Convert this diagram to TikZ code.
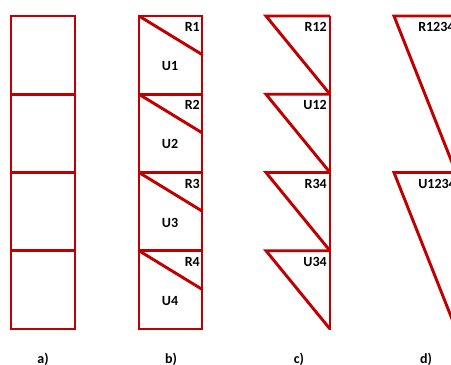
\documentclass[tikz,border=0pt]{standalone}
\usepackage{fontspec}
\setmainfont{Carlito}
\definecolor{cellred}{HTML}{C00000}
\tikzstyle{cell} = [draw=cellred, line width=2.2pt]
\tikzstyle{lbl} = [font=\fontsize{10.5}{12}\selectfont\bfseries, inner sep=0pt]

\begin{document}
\begin{tikzpicture}[x=0.75pt, y=-0.75pt]
  \useasboundingbox (0,0) rectangle (451,365);
  \clip (0,0) rectangle (451,365);
  % a) four plain cells
  \foreach \i in {0, 1, 2, 3} {
    \draw[cell] (11, 16 + \i * 78.25) rectangle (75, 94.25 + \i * 78.25);
  }
  % b) each cell cut into R and U
  \foreach \i\j in {0/1, 1/2, 2/3, 3/4} {
    \draw[cell] (139, 16 + \i * 78.25) rectangle (202, 94.25 + \i * 78.25);
    \draw[cell] (139, 16 + \i * 78.25) -- (202, 54.5 + \i * 78.25);
    \node[lbl, anchor=east] (r\j) at (200, 27 + \i * 78.25) {R\j};
    \node[lbl] (u\j) at (170, 66 + \i * 78.25) {U\j};
  }
  % c) pairs merged
  \draw[cell] (330, 16) -- (330, 329.5);
  \foreach \i in {0, 1, 2, 3} {
    \draw[cell] (330, 16 + \i * 78.25) -- (266, 16 + \i * 78.25) -- (330, 94.25 + \i * 78.25);
  }
  \foreach \i\j in {0/R12, 1/U12, 2/R34, 3/U34} {
    \node[lbl, anchor=east] (c\i) at (327, 27 + \i * 78.25) {\j};
  }
  % d) all four merged
  \draw[cell] (456, 16) -- (456, 329.5);
  \foreach \i in {0, 1} {
    \draw[cell] (456, 16 + \i * 156.5) -- (394, 16 + \i * 156.5) -- (456, 172.5 + \i * 156.5);
  }
  \node[lbl, anchor=west] (d0) at (418, 27) {R1234};
  \node[lbl, anchor=west] (d1) at (418, 183.5) {U1234};
  % captions
  \foreach \i\j in {43/a, 171/b, 299/c, 426/d} {
    \node[lbl] (cap\j) at (\i, 359) {\j)};
  }
\end{tikzpicture}
\end{document}
